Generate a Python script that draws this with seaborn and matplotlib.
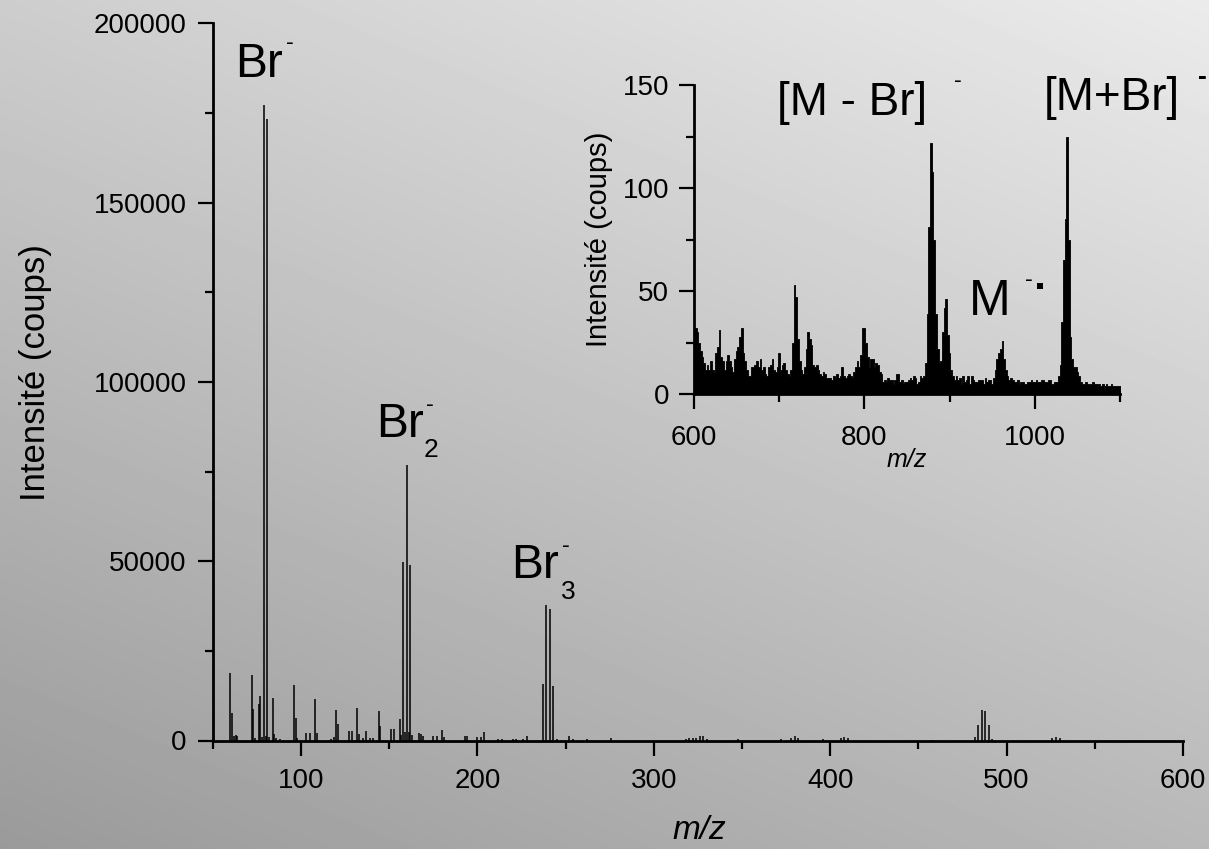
import numpy as np
import pandas as pd
import matplotlib
matplotlib.use("Agg")
import matplotlib.pyplot as plt
from matplotlib.ticker import MultipleLocator, FuncFormatter
from matplotlib.patches import Rectangle
import seaborn as sns

# ---------------- data: main spectrum (stick peaks) ----------------
main_mz = [60, 61, 62, 63, 64, 72, 73, 74, 76, 77, 78, 79, 80, 81, 82,
           84, 85, 86, 88, 96, 97, 98, 103, 105, 108, 109, 117, 119, 120, 121,
           127, 129, 132, 133, 135, 137, 139, 141, 144, 145,
           151, 153, 156, 157, 158, 159, 160, 161, 162, 163,
           167, 168, 169, 175, 177, 180, 181, 193, 194, 200, 202, 204,
           212, 214, 220, 222, 226, 228, 237, 239, 241, 243, 245,
           252, 254, 262, 276, 318, 320, 322, 324, 326, 328, 330, 348,
           372, 378, 380, 382, 396, 406, 408, 410, 458,
           482, 484, 486, 488, 490, 492, 526, 528, 530]
main_counts = [18700, 7600, 1200, 1500, 1200, 18400, 8700, 800, 10100, 12400, 1000, 177300, 1200, 173400, 900,
               11900, 1900, 600, 400, 15400, 6300, 600, 2200, 2200, 11700, 2200, 500, 1000, 8500, 4600,
               2600, 2600, 9100, 1900, 600, 2600, 700, 600, 8300, 4000,
               3100, 3100, 5900, 1400, 49800, 2300, 76900, 2300, 49000, 1400,
               2200, 1900, 1200, 1300, 1300, 2800, 900, 1300, 1300, 900, 900, 2500,
               400, 400, 500, 500, 400, 1200, 15800, 37700, 36700, 15100, 300,
               1200, 300, 300, 800, 500, 700, 600, 800, 1300, 1200, 500, 300,
               400, 800, 1200, 700, 300, 600, 900, 700, 200,
               900, 4300, 8400, 8100, 4300, 500, 700, 900, 600]

# ---------------- data: inset spectrum (m/z 600..1100, every 2) ----------------
inset_mz = list(range(600, 1101, 2))
inset_counts = [
    28, 32, 30, 25, 21, 18, 15, 12, 14, 12,      # 600-618
    16, 12, 11, 20, 23, 31, 18, 16, 12, 16,      # 620-638
    19, 16, 13, 11, 17, 21, 23, 28, 32, 20,      # 640-658
    16, 12, 9, 9, 13, 13, 14, 16, 13, 17,        # 660-678
    12, 13, 10, 9, 13, 14, 17, 12, 11, 13,       # 680-698
    20, 12, 14, 15, 12, 10, 9, 12, 25, 53,       # 700-718
    47, 27, 16, 12, 10, 13, 22, 30, 27, 24,      # 720-738
    14, 13, 14, 12, 10, 9, 11, 10, 8, 8,         # 740-758
    8, 7, 9, 8, 10, 8, 9, 13, 9, 8,              # 760-778
    9, 10, 9, 8, 11, 13, 16, 13, 19, 32,         # 780-798
    32, 25, 18, 13, 17, 17, 13, 15, 14, 11,      # 800-818
    10, 6, 7, 6, 8, 7, 7, 5, 7, 10,              # 820-838
    10, 6, 7, 5, 6, 6, 7, 8, 7, 9,               # 840-858
    8, 5, 6, 9, 8, 9, 15, 39, 81, 122,           # 860-878
    108, 75, 39, 22, 15, 16, 30, 42, 46, 29,     # 880-898
    20, 12, 9, 7, 9, 7, 8, 5, 9, 6,              # 900-918
    7, 9, 5, 9, 7, 6, 6, 7, 7, 7,                # 920-938
    5, 8, 6, 7, 7, 5, 8, 12, 17, 20,             # 940-958
    22, 26, 17, 12, 9, 7, 8, 7, 6, 6,            # 960-978
    7, 5, 6, 6, 5, 5, 6, 6, 7, 6,                # 980-998
    6, 7, 6, 6, 7, 7, 6, 6, 7, 7,                # 1000-1018
    5, 5, 6, 6, 9, 14, 35, 65, 85, 125,          # 1020-1038
    75, 28, 17, 13, 13, 11, 9, 6, 5, 5,          # 1040-1058
    6, 5, 5, 5, 6, 5, 5, 5, 5, 4,                # 1060-1078
    5, 4, 5, 4, 4, 5, 4, 4, 4, 4,                # 1080-1098
    4,                                           # 1100
]

main_xticks_label = "m/z"
y_label = "Intensité (coups)"

# ---------------- style ----------------
sns.set_theme(style="ticks")
plt.rcParams['font.family'] = ['Liberation Sans', 'DejaVu Sans']
plt.rcParams['axes.unicode_minus'] = False

W, H = 1209, 849
fig = plt.figure(figsize=(W / 100, H / 100), dpi=100)

# gradient background (light top-right -> dark bottom-left)
bg = fig.add_axes([0, 0, 1, 1], zorder=0)
yy, xx = np.mgrid[0:H, 0:W]
grad = 205 + 30 * xx / W - 51 * yy / H
bg.imshow(grad, cmap='gray', vmin=0, vmax=255, aspect='auto', interpolation='bilinear')
bg.axis('off')

# ---------------- main axes ----------------
ax = fig.add_axes([212.7 / W, 1 - 740.5 / H, (1183 - 212.7) / W, (740.5 - 23.3) / H], zorder=1)
ax.set_facecolor('none')
df_main = pd.DataFrame({'mz': main_mz, 'counts': main_counts})
ax.vlines(df_main['mz'], 0, df_main['counts'], color='black', linewidth=1.1)
ax.set_xlim(50, 600)
ax.set_ylim(0, 200000)
ax.xaxis.set_major_locator(MultipleLocator(100))
ax.xaxis.set_minor_locator(MultipleLocator(50))
ax.yaxis.set_major_locator(MultipleLocator(50000))
ax.yaxis.set_minor_locator(MultipleLocator(25000))
ax.yaxis.set_major_formatter(FuncFormatter(lambda v, p: f"{int(round(v))}"))
ax.xaxis.set_major_formatter(FuncFormatter(lambda v, p: f"{int(round(v))}"))

ax.set_xlabel(main_xticks_label, fontsize=24, style='italic', color='black')
ax.set_ylabel(y_label, fontsize=25, color='black')
ax.xaxis.set_label_coords(0.501, -0.104)
ax.yaxis.set_label_coords(-0.1657, 0.5136)

# peak labels
big = 34.5
ax.text(62.7, 185000, "Br", fontsize=big, ha='left', va='baseline', color='black')
ax.text(93.8, 192900, "-", fontsize=17, ha='center', va='baseline', color='black')
ax.text(142.6, 84700, "Br", fontsize=big, ha='left', va='baseline', color='black')
ax.text(173.2, 91900, "-", fontsize=17, ha='center', va='baseline', color='black')
ax.text(169.7, 79100, "2", fontsize=19, ha='left', va='baseline', color='black')
ax.text(219.2, 45300, "Br", fontsize=big, ha='left', va='baseline', color='black')
ax.text(250.3, 52600, "-", fontsize=17, ha='center', va='baseline', color='black')
ax.text(247.4, 39500, "3", fontsize=19, ha='left', va='baseline', color='black')

# ---------------- inset axes ----------------
ax_in = fig.add_axes([694 / W, 1 - 394.3 / H, 426 / W, (394.3 - 85) / H], zorder=2)
ax_in.set_facecolor('none')
df_in = pd.DataFrame({'mz': np.asarray(inset_mz, dtype=float),
                      'counts': np.asarray(inset_counts, dtype=float)})
sns.histplot(data=df_in, x='mz', weights='counts', binwidth=2, binrange=(599, 1101),
             element='step', fill=True, color='black', alpha=1, linewidth=0.6, ax=ax_in)
ax_in.set_xlim(600, 1100)
ax_in.set_ylim(0, 150)
ax_in.xaxis.set_major_locator(MultipleLocator(200))
ax_in.xaxis.set_minor_locator(MultipleLocator(100))
ax_in.yaxis.set_major_locator(MultipleLocator(50))
ax_in.yaxis.set_minor_locator(MultipleLocator(25))
ax_in.set_xlabel(main_xticks_label, fontsize=18, style='italic', color='black')
ax_in.set_ylabel(y_label, fontsize=21, color='black')
ax_in.xaxis.set_label_coords(0.5, -0.1736)
ax_in.yaxis.set_label_coords(-0.190, 0.5)

ax_in.text(697.4, 135.5, "[M - Br]", fontsize=33, ha='left', va='baseline', color='black', clip_on=False)
ax_in.text(910.2, 149.0, "-", fontsize=17, ha='center', va='baseline', color='black', clip_on=False)
ax_in.text(1010.8, 137.9, "[M+Br]", fontsize=33, ha='left', va='baseline', color='black', clip_on=False)
ax_in.text(1196.8, 150.5, "-", fontsize=19, fontweight='bold', ha='center', va='baseline',
           color='black', clip_on=False)
ax_in.text(922.8, 38.5, "M", fontsize=36, ha='left', va='baseline', color='black', clip_on=False)
ax_in.text(993.2, 52.4, "-", fontsize=17, ha='center', va='baseline', color='black', clip_on=False)
ax_in.add_patch(Rectangle((1002.6, 51.05), 7.0, 2.9, facecolor='black', edgecolor='none', clip_on=False))

# ---------------- common axis styling ----------------
for a in (ax, ax_in):
    sns.despine(ax=a)
    for s in ('left', 'bottom'):
        a.spines[s].set_linewidth(2.0)
        a.spines[s].set_color('black')
    a.tick_params(which='major', direction='out', length=10.8, width=1.6, labelsize=20,
                  color='black', labelcolor='black')
    a.tick_params(which='minor', direction='out', length=5.8, width=1.6, color='black')

ax.tick_params(axis='x', which='major', pad=9)
ax.tick_params(axis='y', which='major', pad=8)
ax_in.tick_params(axis='x', which='major', pad=11)
ax_in.tick_params(axis='y', which='major', pad=7)

fig.savefig("out.png", dpi=100)
